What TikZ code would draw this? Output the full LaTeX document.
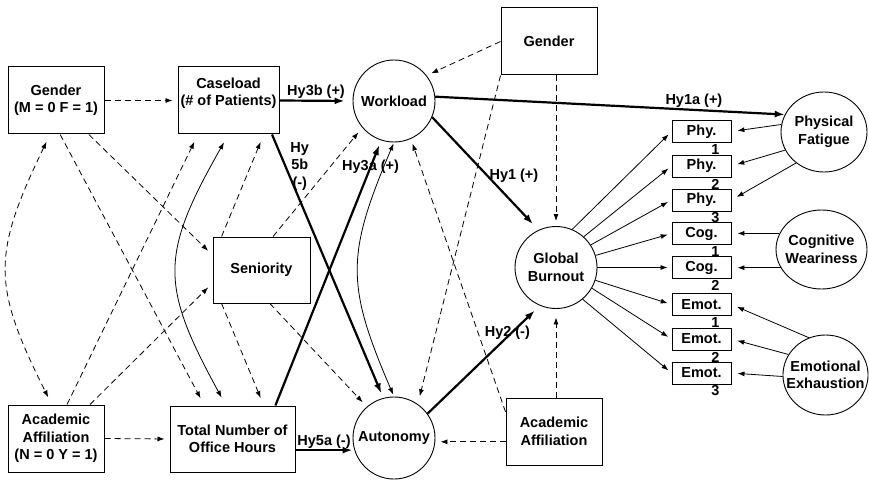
\documentclass[tikz,border=0pt]{standalone}
\usepackage{fontspec}
\setmainfont{Liberation Sans}
\usetikzlibrary{shapes.geometric,arrows.meta}
\tikzstyle{box} = [rectangle, minimum width=96pt, minimum height=67pt, inner sep=2pt, align=center, draw=black, line width=1pt]
\tikzstyle{lv} = [circle, minimum size=82pt, inner sep=0pt, align=center, draw=black, line width=0.9pt]
\tikzstyle{fac} = [ellipse, minimum width=86pt, minimum height=80pt, inner sep=-9pt, align=center, draw=black, line width=0.9pt]
\tikzstyle{ind} = [rectangle, minimum width=59pt, minimum height=22pt, inner sep=0pt, draw=black, line width=0.9pt]
\tikzstyle{num} = [anchor=center, inner sep=0pt, xshift=14pt, yshift=-6.5pt]
\tikzstyle{dsh} = [-{Latex[length=7pt,width=5pt]}, line width=0.8pt, dash pattern=on 6pt off 4pt, shorten >=5pt]
\tikzstyle{hyp} = [-{Latex[length=10pt,width=7pt]}, line width=2.2pt]
\tikzstyle{load} = [-{Latex[length=7pt,width=5pt]}, line width=0.8pt]
\tikzstyle{cor} = [{Latex[length=7pt,width=5pt]}-{Latex[length=7pt,width=5pt]}, line width=0.8pt]
\tikzstyle{lbl} = [inner sep=1pt, align=center]

\begin{document}
\begin{tikzpicture}[x=1pt, y=-1pt, font=\fontsize{14.5pt}{17.5pt}\selectfont\bfseries]
\useasboundingbox (0,0) rectangle (869,481);
			\node[box](gL) at (56,100.5){Gender\\(M = 0 F = 1)};
			\node[box, minimum width=101pt](case) at (228.5,100.5){Caseload\\(\# of Patients)\\\mbox{}};
			\node[lv](wl) at (394,101){Workload};
			\node[box](gR) at (549,41.5){Gender};
			\node[box, minimum width=97pt, minimum height=66pt](sen) at (261.5,270){Seniority};
			\node[box](aaL) at (56,438.5){Academic\\Affiliation\\(N = 0 Y = 1)};
			\node[box, minimum width=125pt, minimum height=66pt](tot) at (232.5,439){Total Number of\\Office Hours};
			\node[lv](aut) at (394,438){Autonomy};
			\node[lv](gb) at (556,267.5){Global\\Burnout};
			\node[box](aaR) at (554,431.5){Academic\\Affiliation};
			\node[fac](pf) at (824,132){Physical\\Fatigue};
			\node[fac, minimum width=91pt, minimum height=79pt](cw) at (821.5,249.5){Cognitive\\Weariness};
			\node[fac, minimum width=85pt](ee) at (825.5,375){Emotional\\Exhaustion};
			\node[ind, label={[num]south:1}](phyA) at (701.5,131.5){Phy.};
			\node[ind, label={[num]south:2}](phyB) at (701.5,166){Phy.};
			\node[ind, label={[num]south:3}](phyC) at (701.5,200){Phy.};
			\node[ind, label={[num]south:1}](cogA) at (701.5,233.5){Cog.};
			\node[ind, label={[num]south:2}](cogB) at (701.5,267.5){Cog.};
			\node[ind, label={[num]south:1}](emoA) at (701.5,304.5){Emot.};
			\node[ind, label={[num]south:2}](emoB) at (701.5,339){Emot.};
			\node[ind, label={[num]south:3}](emoC) at (701.5,373){Emot.};
			\draw[dsh] (gL.east)--(case.west);
			\draw[dsh, shorten >=6pt] (gL.-46)--(sen.163);
			\draw[dsh, shorten >=8pt] (gL.-83)--(tot.130);
			\draw[cor, dash pattern=on 6pt off 4pt, shorten <=8pt, shorten >=8pt] (gL.-100) .. controls (-8,255) and (-8,285) .. (aaL.97);
			\draw[dsh, shorten >=8pt] (aaL.72)--(case.-132);
			\draw[dsh, shorten >=6pt] (aaL.45)--(sen.195);
			\draw[dsh] (aaL.east)--(tot.west);
			\draw[dsh, shorten >=8pt] (sen.140)--(case.-44);
			\draw[dsh, shorten >=6pt] (sen.71)--(wl.220);
			\draw[dsh, shorten >=8pt] (sen.-140)--(tot.47);
			\draw[dsh, shorten >=6pt] (sen.-76)--(aut.131);
			\draw[dsh] (gR.west)--(wl.38);
			\draw[dsh, shorten >=8pt] (gR.south west)--(aut.55);
			\draw[dsh] (gb |- gR.south)--(gb.north);
			\draw[dsh] (aaR.158)--(wl.-66);
			\draw[dsh] (aaR.192)--(aut.east |- aaR.192);
			\draw[dsh, shorten >=8.5pt] (gb |- aaR.north)--(gb.south);
			\draw[cor, shorten <=9pt, shorten >=9pt] (case.south) .. controls (160,255) and (160,285) .. (tot.101);
			\draw[cor, shorten <=1pt, shorten >=2pt] (wl.south) .. controls (346,255) and (346,285) .. (aut.north);
			\draw[hyp, shorten >=8pt] (case.east)--node[above, lbl]{Hy3b (+)}(wl.west);
			\draw[hyp, shorten >=5pt] (case.-38)--node[pos=0.12, anchor=west, lbl, xshift=3pt]{Hy\\5b\\(-)}(aut.105);
			\draw[hyp, shorten >=5pt] (tot.38)--node[pos=0.9, lbl]{Hy3a (+)}(wl.-108);
			\draw[hyp] (tot.-10)--node[above, lbl]{Hy5a (-)}(aut.west |- tot.-10);
			\draw[hyp, shorten >=8pt] (wl.-23)--node[pos=0.52, anchor=west, lbl]{Hy1 (+)}(gb.115);
			\draw[hyp] (wl.6)--node[pos=0.74, above, lbl]{Hy1a (+)}(pf.156);
			\draw[hyp, shorten >=7pt] (aut.36)--node[pos=0.8, lbl, xshift=-10pt, yshift=-5pt]{Hy2 (-)}(gb.247);
			\draw[load, shorten >=4pt] (gb.67)--(phyA.west);
			\draw[load, shorten >=4pt] (gb.48)--(phyB.west);
			\draw[load, shorten >=4pt] (gb.33)--(phyC.west);
			\draw[load, shorten >=4pt] (gb.17)--(cogA.west);
			\draw[load, shorten >=4pt] (gb.0)--(cogB.west);
			\draw[load, shorten >=4pt] (gb.-18)--(emoA.west);
			\draw[load, shorten >=4pt] (gb.-30)--(emoB.west);
			\draw[load, shorten >=4pt] (gb.-50)--(emoC.west);
			\draw[load, shorten >=6pt] (pf.170)--(phyA.east);
			\draw[load, shorten >=6pt] (pf.205)--(phyB.east);
			\draw[load, shorten >=6pt] (pf.228)--(phyC.east);
			\draw[load, shorten >=6pt] (cw.159)--(cw.159 -| cogA.east);
			\draw[load, shorten >=6pt] (cw.204)--(cw.204 -| cogB.east);
			\draw[load, shorten >=6pt] (ee.114)--(emoA.east);
			\draw[load, shorten >=6pt] (ee.151)--(emoB.east);
			\draw[load, shorten >=6pt] (ee.182)--(emoC.east);
		\end{tikzpicture}
\end{document}
